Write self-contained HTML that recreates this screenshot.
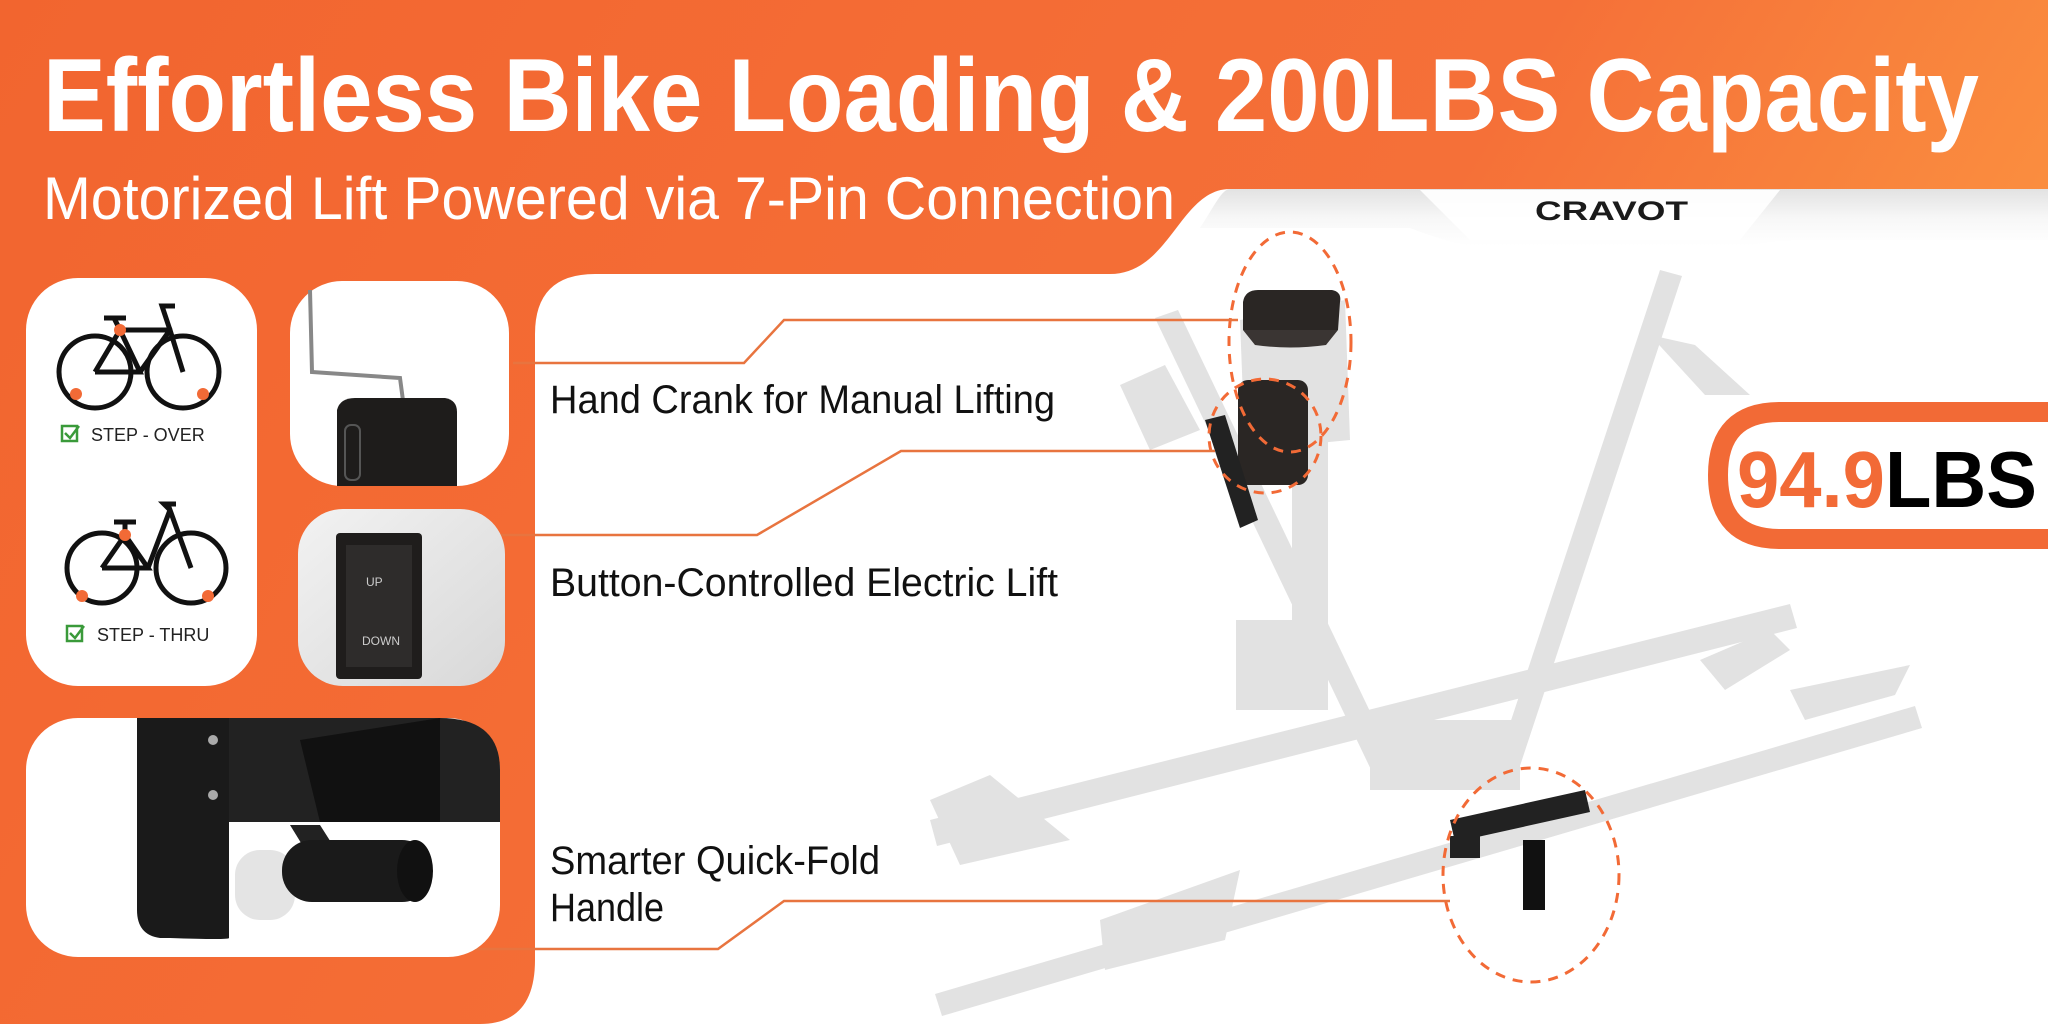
<!DOCTYPE html>
<html><head><meta charset="utf-8"><style>
html,body{margin:0;padding:0;width:2048px;height:1024px;overflow:hidden;background:#fff}
svg{display:block}
text{font-family:"Liberation Sans",sans-serif}
</style></head><body>
<svg width="2048" height="1024" viewBox="0 0 2048 1024" xmlns="http://www.w3.org/2000/svg">
<defs>
<linearGradient id="og" x1="0" y1="0" x2="1" y2="0.3">
<stop offset="0" stop-color="#F2652F"/><stop offset="0.7" stop-color="#F57038"/><stop offset="1" stop-color="#FB9140"/>
</linearGradient>
<linearGradient id="bn" x1="0" y1="0" x2="0" y2="1">
<stop offset="0" stop-color="#e2e2e2"/><stop offset="0.5" stop-color="#f7f7f7"/><stop offset="1" stop-color="#ffffff"/>
</linearGradient>
<linearGradient id="sw" x1="0" y1="0" x2="1" y2="1">
<stop offset="0" stop-color="#f2f2f2"/><stop offset="1" stop-color="#d8d8d8"/>
</linearGradient>
</defs>
<rect width="2048" height="1024" fill="#fff"/>
<path d="M0 0 H2048 V189 H1230 C1180 189 1170 274 1110 274 H595 Q535 274 535 334 V960 Q535 1024 480 1024 H0 Z" fill="url(#og)"/>
<path d="M1230 189 H2048 V240 H1800 Q1770 240 1750 246 H1470 Q1440 240 1410 228 H1200 C1215 205 1222 189 1230 189Z" fill="url(#bn)"/>
<path d="M1420 190 H1780 Q1760 215 1740 240 H1470 Q1445 215 1420 190Z" fill="#fff" opacity="0.9"/>
<text x="1535" y="220" font-size="27" font-weight="bold" fill="#1a1a1a" textLength="153" lengthAdjust="spacingAndGlyphs">CRAVOT</text>
<text x="43" y="131" font-size="104" font-weight="bold" fill="#fff" textLength="1936" lengthAdjust="spacingAndGlyphs">Effortless Bike Loading &amp; 200LBS Capacity</text>
<text x="43" y="219" font-size="60" fill="#fff" textLength="1132" lengthAdjust="spacingAndGlyphs">Motorized Lift Powered via 7-Pin Connection</text>

<g fill="#d6d6d6" opacity="0.7">
<polygon points="1660,270 1682,276 1512,790 1490,784"/>
<polygon points="1155,318 1178,310 1398,770 1375,778"/>
<rect x="1292" y="380" width="36" height="330"/>
<rect x="1236" y="620" width="70" height="90"/>
<polygon points="930,820 1790,604 1797,628 937,846"/>
<polygon points="935,994 1915,706 1922,728 942,1016"/>
<polygon points="1370,720 1520,720 1520,790 1370,790"/>
<polygon points="930,800 990,775 1070,840 960,865"/>
<polygon points="1700,660 1770,630 1790,650 1725,690"/>
<polygon points="1120,385 1165,365 1200,430 1150,450"/>
<polygon points="1240,320 1345,300 1350,440 1245,450"/>
<polygon points="1650,335 1695,345 1750,395 1705,395"/>
<polygon points="1790,690 1910,665 1895,695 1805,720"/>
<polygon points="1100,920 1240,870 1225,940 1105,970"/>
</g>
<path d="M1243 302 Q1245 290 1258 290 H1332 Q1342 292 1340 302 L1338 330 H1243Z" fill="#2a2624"/>
<path d="M1243 330 H1338 L1326 345 Q1290 350 1255 345Z" fill="#3a3533"/>
<rect x="1238" y="380" width="70" height="105" rx="10" fill="#2a2624"/>
<polygon points="1205,420 1225,415 1258,520 1240,528" fill="#222"/>
<polygon points="1450,820 1585,790 1590,812 1455,842" fill="#222"/>
<rect x="1450" y="836" width="30" height="22" fill="#222"/>
<rect x="1523" y="840" width="22" height="70" fill="#111"/>

<g fill="none" stroke="#F26A36" stroke-width="3" stroke-dasharray="10 8">
<ellipse cx="1290" cy="342" rx="61" ry="110"/>
<ellipse cx="1265" cy="436" rx="56" ry="57"/>
<ellipse cx="1531" cy="875" rx="88" ry="107"/>
</g>

<g fill="none" stroke="#E8743F" stroke-width="2.5">
<polyline points="513,363 744,363 784,320 1238,320"/>
<polyline points="500,535 757,535 901,451 1215,451"/>
<polyline points="470,949 718,949 784,901 1450,901"/>
</g>

<g fill="#111" font-size="40">
<text x="550" y="413" textLength="505" lengthAdjust="spacingAndGlyphs">Hand Crank for Manual Lifting</text>
<text x="550" y="596" textLength="508" lengthAdjust="spacingAndGlyphs">Button-Controlled Electric Lift</text>
<text x="550" y="874" textLength="330" lengthAdjust="spacingAndGlyphs">Smarter Quick-Fold</text>
<text x="550" y="921" textLength="114" lengthAdjust="spacingAndGlyphs">Handle</text>
</g>

<path d="M2048 412 H1780 Q1718 412 1718 475 Q1718 539 1780 539 H2048" fill="#fff" stroke="#F26A36" stroke-width="20"/>
<text x="1737" y="507" font-size="80" font-weight="bold" textLength="300" lengthAdjust="spacingAndGlyphs"><tspan fill="#F26A36">94.9</tspan><tspan fill="#000">LBS</tspan></text>

<rect x="26" y="278" width="231" height="408" rx="52" fill="#fff"/>
<rect x="290" y="281" width="219" height="205" rx="52" fill="#fff"/>
<rect x="298" y="509" width="207" height="177" rx="45" fill="url(#sw)"/>
<rect x="26" y="718" width="474" height="239" rx="52" fill="#fff"/>

<g fill="none" stroke="#111" stroke-width="5">
<circle cx="95" cy="372" r="36"/><circle cx="183" cy="372" r="36"/>
<polyline points="95,372 120,330 170,330 183,372"/>
<polyline points="120,330 140,372 95,372"/>
<polyline points="140,372 170,330"/>
<line x1="120" y1="330" x2="114" y2="318"/><line x1="104" y1="318" x2="126" y2="318"/>
<polyline points="170,330 162,306 175,306"/>
</g>
<g fill="#F26A36"><circle cx="120" cy="330" r="6"/><circle cx="76" cy="394" r="6"/><circle cx="203" cy="394" r="6"/></g>
<rect x="62" y="426" width="15" height="15" fill="none" stroke="#3a9a3a" stroke-width="2.5"/>
<polyline points="65,433 70,438 79,426" fill="none" stroke="#3a9a3a" stroke-width="2.5"/>
<text x="91" y="441" font-size="18" fill="#222">STEP - OVER</text>
<g fill="none" stroke="#111" stroke-width="5">
<circle cx="102" cy="568" r="35"/><circle cx="191" cy="568" r="35"/>
<polyline points="102,568 125,535 148,568 102,568"/>
<polyline points="148,568 170,510 191,568"/>
<line x1="125" y1="535" x2="125" y2="522"/><line x1="114" y1="522" x2="136" y2="522"/>
<polyline points="170,510 164,504 176,504"/>
</g>
<g fill="#F26A36"><circle cx="125" cy="535" r="6"/><circle cx="82" cy="596" r="6"/><circle cx="208" cy="596" r="6"/></g>
<rect x="67" y="626" width="15" height="15" fill="none" stroke="#3a9a3a" stroke-width="2.5"/>
<polyline points="70,633 75,638 84,626" fill="none" stroke="#3a9a3a" stroke-width="2.5"/>
<text x="97" y="641" font-size="18" fill="#222">STEP - THRU</text>

<polyline points="310,290 312,372 400,378 404,408" fill="none" stroke="#888" stroke-width="4"/>
<path d="M337 410 Q340 398 355 398 H445 Q457 400 457 412 V486 H337Z" fill="#1e1c1b"/>
<rect x="345" y="425" width="15" height="55" rx="6" fill="none" stroke="#555" stroke-width="2"/>
<rect x="336" y="533" width="86" height="146" rx="4" fill="#1f1d1c"/>
<rect x="346" y="545" width="66" height="122" fill="#2e2c2b"/>
<text x="366" y="586" font-size="12" fill="#ccc">UP</text>
<text x="362" y="645" font-size="12" fill="#ccc">DOWN</text>
<path d="M137 718 H229 V938 Q229 940 170 938 H160 Q137 935 137 910Z" fill="#1a1a1a"/>
<path d="M229 718 H440 Q500 718 500 770 V822 H229Z" fill="#222"/>
<polygon points="300,740 440,718 440,822 320,822" fill="#111"/>
<circle cx="213" cy="740" r="5" fill="#aaa"/><circle cx="213" cy="795" r="5" fill="#aaa"/>
<rect x="235" y="850" width="60" height="70" rx="25" fill="#d8d8d8" opacity="0.7"/>
<polygon points="290,825 320,825 355,880 330,890" fill="#222"/>
<rect x="282" y="840" width="150" height="62" rx="30" fill="#1a1a1a"/>
<ellipse cx="415" cy="871" rx="18" ry="31" fill="#111"/>
</svg>
</body></html>
